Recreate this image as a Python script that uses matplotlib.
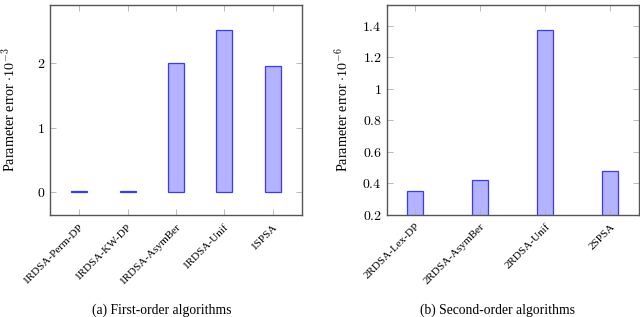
import numpy as np
import matplotlib.pyplot as plt
from matplotlib.ticker import FuncFormatter

plt.rcParams['font.family'] = ['Liberation Serif', 'DejaVu Serif']
plt.rcParams['mathtext.fontset'] = 'cm'

# first-order algorithms (values x 1e-3)
first_names = ['1RDSA-Perm-DP', '1RDSA-KW-DP', '1RDSA-AsymBer', '1RDSA-Unif', '1SPSA']
first_vals = [0.015, 0.015, 2.0, 2.51, 1.96]

# second-order algorithms (values x 1e-6)
second_names = ['2RDSA-Lex-DP', '2RDSA-AsymBer', '2RDSA-Unif', '2SPSA']
second_vals = [0.35, 0.42, 1.375, 0.476]

fill_col = '#b3b3ff'
edge_col = '#3a3aff'


def style_axis(ax):
    for s in ax.spines.values():
        s.set_color('#555555')
        s.set_linewidth(1.0)
    ax.tick_params(direction='in', length=4, width=0.6, color='#b0b0b0',
                   top=True, right=True, labelsize=10)
    ax.tick_params(axis='x', labelsize=8, pad=5)
    ax.yaxis.set_major_formatter(FuncFormatter(lambda v, p: '$%g$' % round(v, 3)))


fig = plt.figure(figsize=(6.4, 3.17), dpi=100)
ax1 = fig.add_axes([0.078, 0.322, 0.394, 0.662])
ax2 = fig.add_axes([0.604, 0.322, 0.394, 0.662])

x1 = np.arange(len(first_names))
ax1.bar(x1, first_vals, width=0.33, color=fill_col, edgecolor=edge_col, linewidth=0.9)
ax1.set_xlim(-0.6, 4.6)
ax1.set_ylim(-0.35, 2.9)
ax1.set_yticks([0, 1, 2])
ax1.set_xticks(x1)
ax1.set_xticklabels(first_names, rotation=45, ha='right', rotation_mode='anchor')
style_axis(ax1)

x2 = np.arange(len(second_names))
ax2.bar(x2, second_vals, width=0.246, bottom=0, color=fill_col, edgecolor=edge_col, linewidth=0.9)
ax2.set_xlim(-0.445, 3.44)
ax2.set_ylim(0.2, 1.53)
ax2.set_yticks([0.2, 0.4, 0.6, 0.8, 1.0, 1.2, 1.4])
ax2.set_xticks(x2)
ax2.set_xticklabels(second_names, rotation=45, ha='right', rotation_mode='anchor')
style_axis(ax2)

fig.text(0.014, 0.653, r'Parameter error $\cdot 10^{-3}$', rotation=90,
         ha='center', va='center', fontsize=10.2)
fig.text(0.535, 0.653, r'Parameter error $\cdot 10^{-6}$', rotation=90,
         ha='center', va='center', fontsize=10.2)

fig.text(0.252, 0.022, '(a) First-order algorithms', ha='center', va='center', fontsize=9.8)
fig.text(0.778, 0.022, '(b) Second-order algorithms', ha='center', va='center', fontsize=9.8)

fig.savefig('out.png', dpi=100)
